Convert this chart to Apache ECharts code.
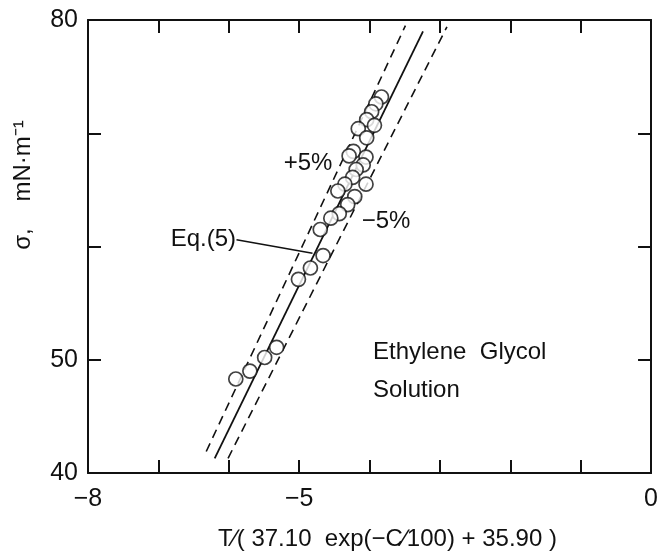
<!DOCTYPE html>
<html>
<head>
<meta charset="utf-8">
<script src="https://cdn.jsdelivr.net/npm/echarts@6/dist/echarts.min.js"></script>
<style>
  html, body { margin: 0; padding: 0; background: #fff; }
  #chart { width: 661px; height: 557px; }
</style>
</head>
<body>
<div id="chart"></div>
<script>
// measured points: x = T/(37.10 exp(-C/100)+35.90), y = sigma (mN/m)
const pointX = [-3.83, -3.91, -3.97, -4.04, -4.16, -3.93, -4.04, -4.23, -4.29, -4.05,
  -4.09, -4.19, -4.24, -4.35, -4.45, -4.05, -4.21, -4.31, -4.43, -4.55,
  -4.70, -4.66, -4.84, -5.01, -5.32, -5.49, -5.70, -5.90];
const pointY = [73.2, 72.6, 71.9, 71.2, 70.4, 70.7, 69.6, 68.4, 68.0, 67.9,
  67.2, 66.8, 66.1, 65.5, 64.9, 65.5, 64.4, 63.7, 62.9, 62.5,
  61.5, 59.2, 58.1, 57.1, 51.1, 50.2, 49.0, 48.3];

// Eq.(5) and the +/-5% band
const eqX = [-6.20, -3.24];
const eqY = [41.3, 79.0];
const plusX = [-6.32, -3.49];
const plusY = [41.9, 79.5];
const minusX = [-6.01, -2.90];
const minusY = [41.3, 79.4];

// leader line from the Eq.(5) label
const leaderX = [-5.89, -4.81];
const leaderY = [60.6, 59.4];

const xLabels = [-8, -5, 0];
const yLabels = [40, 50, 80];

const pairs = (xs, ys) => xs.map((x, i) => [x, ys[i]]);

const font = 'Liberation Sans';
const ink = '#111';

const chart = echarts.init(document.getElementById('chart'));

const baseX = {
  type: 'value', min: -8, max: 0, interval: 1,
  axisLine: { show: true, onZero: false, lineStyle: { color: ink, width: 2 } },
  axisTick: { inside: true, length: 13, lineStyle: { color: ink, width: 2 } },
  splitLine: { show: false }
};
const baseY = {
  type: 'value', min: 40, max: 80, interval: 10,
  axisLine: { show: true, onZero: false, lineStyle: { color: ink, width: 2 } },
  axisTick: { inside: true, length: 13, lineStyle: { color: ink, width: 2 } },
  splitLine: { show: false }
};

chart.setOption({
  animation: false,
  backgroundColor: '#fff',
  grid: { left: 88, right: 8, top: 20, bottom: 84 },
  xAxis: [
    Object.assign({}, baseX, {
      position: 'bottom',
      name: 'T\u2215( 37.10  exp(\u2212C\u2215100) + 35.90 )',
      nameLocation: 'middle', nameGap: 54,
      nameTextStyle: { fontFamily: font, fontSize: 24, color: ink, padding: [0, 0, 0, 36] },
      axisLabel: {
        margin: 14, fontFamily: font, fontSize: 25, color: ink,
        formatter: v => (xLabels.includes(v) ? String(v).replace('-', '\u2212') : '')
      }
    }),
    Object.assign({}, baseX, { position: 'top', axisLabel: { show: false } })
  ],
  yAxis: [
    Object.assign({}, baseY, {
      position: 'left',
      axisLabel: {
        margin: 10, fontFamily: font, fontSize: 25, color: ink,
        formatter: v => (yLabels.includes(v) ? String(v) : '')
      }
    }),
    Object.assign({}, baseY, { position: 'right', axisLabel: { show: false } })
  ],
  graphic: [
    { type: 'text', x: 23, y: 185, rotation: Math.PI / 2,
      style: { text: '\u03c3,    mN\u00b7m\u207b\u00b9', fontFamily: font, fontSize: 24, fill: ink,
        align: 'center', verticalAlign: 'middle' } },
    { type: 'text', x: 236, y: 239,
      style: { text: 'Eq.(5)', fontFamily: font, fontSize: 24, fill: ink, align: 'right', verticalAlign: 'middle' } },
    { type: 'text', x: 308, y: 163,
      style: { text: '+5%', fontFamily: font, fontSize: 24, fill: ink, align: 'center', verticalAlign: 'middle' } },
    { type: 'text', x: 386, y: 221,
      style: { text: '\u22125%', fontFamily: font, fontSize: 24, fill: ink, align: 'center', verticalAlign: 'middle' } },
    { type: 'text', x: 373, y: 352,
      style: { text: 'Ethylene  Glycol', fontFamily: font, fontSize: 24, fill: ink, align: 'left', verticalAlign: 'middle' } },
    { type: 'text', x: 373, y: 390,
      style: { text: 'Solution', fontFamily: font, fontSize: 24, fill: ink, align: 'left', verticalAlign: 'middle' } }
  ],
  series: [
    {
      type: 'line', data: pairs(plusX, plusY), symbol: 'none', z: 2,
      lineStyle: { color: ink, width: 1.6, type: [9, 6] }
    },
    {
      type: 'line', data: pairs(minusX, minusY), symbol: 'none', z: 2,
      lineStyle: { color: ink, width: 1.6, type: [9, 6] }
    },
    {
      type: 'line', data: pairs(eqX, eqY), symbol: 'none', z: 2,
      lineStyle: { color: ink, width: 1.8 }
    },
    {
      type: 'line', data: pairs(leaderX, leaderY), symbol: 'none', z: 2,
      lineStyle: { color: ink, width: 1.4 }
    },
    {
      type: 'scatter', data: pairs(pointX, pointY), symbol: 'circle', symbolSize: 14, z: 3,
      itemStyle: { color: '#fff', borderColor: ink, borderWidth: 1.7 }
    }
  ]
});
</script>
</body>
</html>
